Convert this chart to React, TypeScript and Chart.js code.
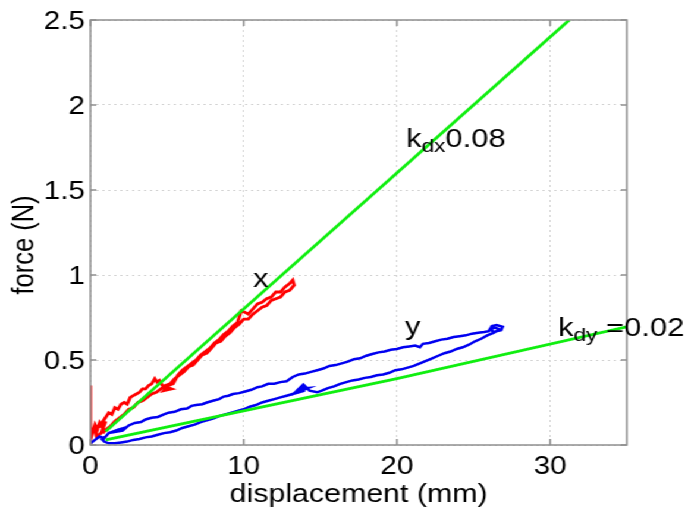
import React, { useEffect, useRef } from 'react';
import { Chart, registerables } from 'chart.js';

Chart.register(...registerables);

const FONT = '"Liberation Sans", Arial, Helvetica, sans-serif';
const W = 581;
const H = 523;
const STRETCH = 691 / W;

// ---- axis ----
const xTicks = [0, 10, 20, 30];
const yTicks = [0, 0.5, 1, 1.5, 2, 2.5];
const xTitle = 'displacement (mm)';
const yTitle = 'force (N)';

// ---- fitted stiffness lines ----
const kdxX = [1, 31.25];
const kdxY = [0.08, 2.5];
const kdyX = [1, 20, 35];
const kdyY = [0.03, 0.39, 0.695];

// ---- x-direction measurement (red) ----
const redX = [
  0, 0, 0,
  0.15, 0.3, 0.45, 0.6, 0.8, 1.0, 0.7, 0.4, 0.3, 0.6, 0.9,
  1.2, 1.4, 1.6, 1.8, 2.0, 2.2, 2.4, 2.6, 2.8, 3.0, 3.2, 3.4, 3.6, 3.8, 4.0, 4.2, 4.35, 4.5,
  4.7, 5.3, 4.8, 5.1, 5.4,
  5.7, 6.0, 6.3, 6.6, 6.9, 7.2, 7.5, 7.8, 8.1, 8.4, 8.7, 9.0, 9.3, 9.6, 9.85, 10.1, 10.3, 10.6,
  10.9, 11.2, 11.5, 11.8, 12.1, 12.4, 12.7, 13.0, 13.2,
  13.3, 13.0, 12.7, 12.4, 12.1, 11.8, 11.5, 11.2, 10.9, 10.6, 10.3, 10.0, 9.7, 9.4, 9.1, 8.8,
  8.5, 8.2, 7.9, 7.6, 7.3, 7.0, 6.7, 6.4, 6.1, 5.8, 5.5, 5.2, 4.9, 4.6, 4.3, 4.0, 3.7, 3.4,
  3.1, 2.8, 2.5, 2.2, 1.9, 1.6, 1.3, 1.0, 0.8,
];
const redY = [
  0, 0.35, 0.03,
  0.08, 0.12, 0.09, 0.13, 0.1, 0.14, 0.07, 0.05, 0.09, 0.11, 0.15,
  0.19, 0.18, 0.22, 0.21, 0.24, 0.25, 0.24, 0.28, 0.29, 0.3, 0.31, 0.33, 0.33, 0.35, 0.36, 0.39, 0.37, 0.38,
  0.35, 0.33, 0.32, 0.35, 0.36,
  0.41, 0.44, 0.46, 0.48, 0.5, 0.53, 0.55, 0.57, 0.6, 0.62, 0.65, 0.67, 0.7, 0.72, 0.79, 0.78, 0.77, 0.8,
  0.83, 0.84, 0.86, 0.87, 0.9, 0.9, 0.93, 0.95, 0.97,
  0.94, 0.91, 0.9, 0.87, 0.86, 0.85, 0.82, 0.81, 0.79, 0.77, 0.74, 0.74, 0.71, 0.69, 0.66, 0.64,
  0.61, 0.6, 0.57, 0.54, 0.53, 0.5, 0.47, 0.46, 0.43, 0.41, 0.39, 0.36, 0.35, 0.33, 0.31, 0.3, 0.28, 0.26,
  0.25, 0.22, 0.21, 0.18, 0.16, 0.14, 0.11, 0.09, 0.07,
];

// ---- y-direction measurement (blue) ----
const blueX = [
  0, 0.3, 0.6, 0.9, 1.2, 1.5, 1.8, 2.2, 1.8, 2.1,
  2.5, 2.9, 3.3, 3.6, 4.0, 4.4, 4.8, 5.1, 5.5, 5.9, 6.3, 6.6, 6.9, 7.3, 7.6, 8.0, 8.4, 8.7, 9.0, 9.3,
  9.7, 10.1, 10.5, 10.9, 11.2, 11.6, 12.0, 12.4, 12.8, 13.2, 13.6, 14.0, 14.4, 14.8, 15.2, 15.6, 16.0,
  16.4, 16.8, 17.2, 17.6, 18.0, 18.4, 18.8, 19.2, 19.6, 20.0, 20.4, 20.8, 21.2, 21.5, 21.7, 22.1, 22.5,
  22.9, 23.3, 23.7, 24.1, 24.5, 24.9, 25.3, 25.7, 26.0, 26.2, 26.5, 26.9, 26.8, 26.3, 26.1, 26.4, 26.7,
  26.3, 25.9, 25.5, 25.1, 24.7, 24.3, 23.9, 23.5, 23.1, 22.7, 22.3, 21.9, 21.5, 21.1, 20.7, 20.3, 19.9,
  19.5, 19.1, 18.7, 18.3, 17.9, 17.5, 17.1, 16.7, 16.3, 15.9, 15.5, 15.1, 14.8,
  14.3, 13.9, 13.6, 14.2, 13.5, 13.9, 13.3, 14.0, 13.2,
  12.8, 12.4, 12.0, 11.6, 11.2, 10.8, 10.4, 10.0, 9.6, 9.2, 8.8, 8.4, 8.0, 7.6, 7.2, 6.8, 6.4, 6.0,
  5.6, 5.2, 4.8, 4.4, 4.0, 3.6, 3.2, 2.8, 2.4, 2.0, 1.6, 1.2, 0.9, 0.7,
];
const blueY = [
  0.01, 0.03, 0.05, 0.04, 0.07, 0.08, 0.09, 0.1, 0.08, 0.085,
  0.115, 0.13, 0.135, 0.15, 0.16, 0.165, 0.18, 0.19, 0.195, 0.21, 0.215, 0.23, 0.235, 0.24, 0.25, 0.26, 0.27, 0.285, 0.29, 0.3,
  0.305, 0.315, 0.325, 0.34, 0.345, 0.36, 0.36, 0.37, 0.375, 0.4, 0.415, 0.42, 0.43, 0.44, 0.45, 0.465, 0.47,
  0.48, 0.49, 0.505, 0.51, 0.525, 0.535, 0.545, 0.55, 0.56, 0.565, 0.575, 0.58, 0.585, 0.575, 0.595, 0.6, 0.61,
  0.62, 0.625, 0.635, 0.64, 0.645, 0.655, 0.66, 0.665, 0.67, 0.7, 0.705, 0.695, 0.675, 0.665, 0.68, 0.69, 0.68,
  0.66, 0.645, 0.625, 0.61, 0.59, 0.575, 0.565, 0.55, 0.54, 0.525, 0.51, 0.495, 0.48, 0.465, 0.455, 0.445, 0.44,
  0.425, 0.415, 0.41, 0.4, 0.395, 0.385, 0.38, 0.37, 0.36, 0.345, 0.335, 0.32, 0.31,
  0.32, 0.355, 0.33, 0.335, 0.31, 0.345, 0.305, 0.32, 0.3,
  0.29, 0.28, 0.27, 0.26, 0.25, 0.235, 0.225, 0.21, 0.2, 0.19, 0.18, 0.17, 0.155, 0.145, 0.135, 0.12, 0.11, 0.1,
  0.085, 0.075, 0.07, 0.06, 0.05, 0.045, 0.035, 0.03, 0.02, 0.015, 0.01, 0.01, 0.02, 0.04,
];

// ---- text labels in the plot (data coordinates of left baseline) ----
const labelMain = ['k', 'k', 'x', 'y'];
const labelSub = ['dx', 'dy', '', ''];
const labelTail = ['0.08', ' =0.02', '', ''];
const labelX = [20.6, 30.52, 10.62, 20.53];
const labelY = [1.755, 0.641, 0.929, 0.647];

const toPts = (xs: number[], ys: number[]) => xs.map((x, i) => ({ x, y: ys[i] }));

const boxPlugin = {
  id: 'matlabBox',
  afterDatasetsDraw(chart: any) {
    const { ctx, chartArea } = chart;
    const xs = chart.scales.x;
    const ys = chart.scales.y;
    const { left, right, top, bottom } = chartArea;
    ctx.save();
    ctx.strokeStyle = '#8f8f8f';
    ctx.lineWidth = 1.5;
    ctx.setLineDash([]);
    ctx.strokeRect(left, top, right - left, bottom - top);
    ctx.beginPath();
    xTicks.forEach((v) => {
      const px = xs.getPixelForValue(v);
      ctx.moveTo(px, bottom);
      ctx.lineTo(px, bottom - 6);
      ctx.moveTo(px, top);
      ctx.lineTo(px, top + 6);
    });
    yTicks.forEach((v) => {
      const py = ys.getPixelForValue(v);
      ctx.moveTo(left, py);
      ctx.lineTo(left + 5, py);
      ctx.moveTo(right, py);
      ctx.lineTo(right - 5, py);
    });
    ctx.stroke();
    ctx.restore();
  },
  afterDraw(chart: any) {
    const { ctx } = chart;
    const xs = chart.scales.x;
    const ys = chart.scales.y;
    ctx.save();
    ctx.fillStyle = '#000';
    ctx.textBaseline = 'alphabetic';
    ctx.textAlign = 'left';
    labelMain.forEach((m, i) => {
      const px = xs.getPixelForValue(labelX[i]);
      const py = ys.getPixelForValue(labelY[i]);
      ctx.font = `26px ${FONT}`;
      ctx.fillText(m, px, py);
      let cx = px + ctx.measureText(m).width;
      if (labelSub[i]) {
        ctx.font = `19px ${FONT}`;
        ctx.fillText(labelSub[i], cx, py + 5);
        cx += ctx.measureText(labelSub[i]).width;
      }
      if (labelTail[i]) {
        ctx.font = `26px ${FONT}`;
        ctx.fillText(labelTail[i], cx, py);
      }
    });
    // y-axis title
    ctx.font = `25.5px ${FONT}`;
    ctx.textAlign = 'center';
    ctx.translate(28, 245);
    ctx.rotate(-Math.PI / 2);
    ctx.fillText(yTitle, 0, 0);
    ctx.restore();
  },
};

export default function App() {
  const ref = useRef<HTMLCanvasElement | null>(null);

  useEffect(() => {
    document.body.style.margin = '0';
    document.body.style.overflow = 'hidden';
    if (!ref.current) return;
    const chart = new Chart(ref.current, {
      type: 'scatter',
      data: {
        datasets: [
          {
            data: toPts(kdxX, kdxY),
            showLine: true,
            borderColor: '#10ee10',
            borderWidth: 2.8,
            pointRadius: 0,
            order: 0,
          },
          {
            data: toPts(kdyX, kdyY),
            showLine: true,
            borderColor: '#10ee10',
            borderWidth: 2.8,
            pointRadius: 0,
            order: 0,
          },
          {
            data: toPts(blueX, blueY),
            showLine: true,
            borderColor: '#0000f0',
            borderWidth: 2.5,
            pointRadius: 0,
            order: 1,
          },
          {
            data: toPts(redX, redY),
            showLine: true,
            borderColor: '#ff0000',
            borderWidth: 2.8,
            pointRadius: 0,
            order: 2,
          },
        ],
      },
      options: {
        animation: false,
        responsive: false,
        devicePixelRatio: 1,
        layout: { padding: { left: 0, right: 54, top: 20, bottom: 0 } },
        plugins: { legend: { display: false }, tooltip: { enabled: false } },
        scales: {
          x: {
            type: 'linear',
            min: 0,
            max: 35,
            afterBuildTicks: (s: any) => {
              s.ticks = xTicks.map((v) => ({ value: v }));
            },
            afterFit: (s: any) => {
              s.height = 78;
            },
            grid: { color: '#d4d4d4', lineWidth: 1, drawTicks: false },
            border: { display: false, dash: [2, 3] },
            ticks: {
              color: '#000',
              font: { family: FONT, size: 25 },
              padding: 7,
              maxRotation: 0,
              callback: (v: any) => String(v),
            },
            title: {
              display: true,
              text: xTitle,
              color: '#000',
              font: { family: FONT, size: 25.5 },
              padding: { top: 0, bottom: 13 },
            },
          },
          y: {
            type: 'linear',
            min: 0,
            max: 2.5,
            afterBuildTicks: (s: any) => {
              s.ticks = yTicks.map((v) => ({ value: v }));
            },
            afterFit: (s: any) => {
              s.width = 76;
            },
            grid: { color: '#d4d4d4', lineWidth: 1, drawTicks: false },
            border: { display: false, dash: [2, 3] },
            ticks: {
              color: '#000',
              font: { family: FONT, size: 25 },
              padding: 4.5,
              labelOffset: 2,
              callback: (v: any) => String(v),
            },
          },
        },
      },
      plugins: [boxPlugin],
    } as any);
    return () => chart.destroy();
  }, []);

  return (
    <div
      style={{
        width: W,
        height: H,
        transform: `scaleX(${STRETCH})`,
        transformOrigin: '0 0',
        background: '#fff',
      }}
    >
      <canvas ref={ref} width={W} height={H} style={{ width: W, height: H, display: 'block' }} />
    </div>
  );
}
